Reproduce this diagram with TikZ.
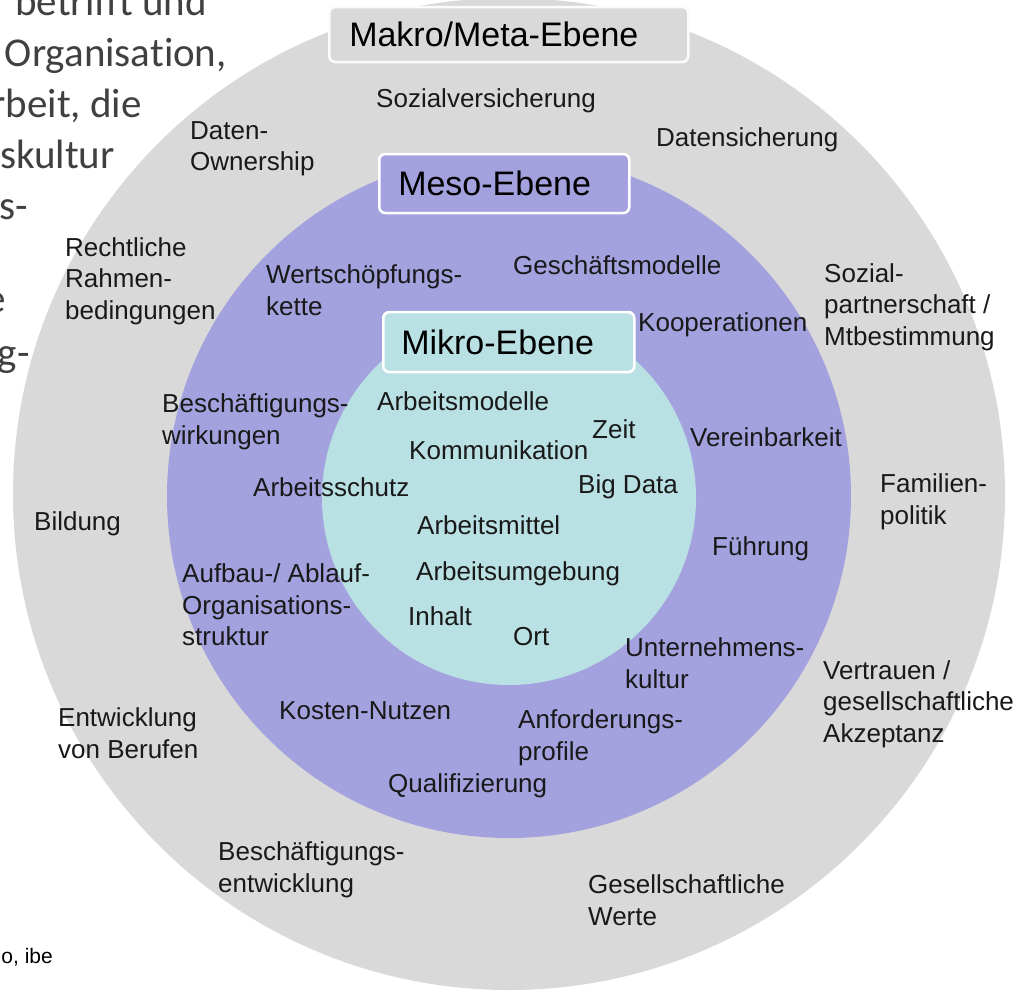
\documentclass[tikz,border=0pt]{standalone}
\usepackage{fontspec}
\setmainfont{Liberation Sans}
\newfontfamily\slidefont[Ligatures=NoCommon]{Carlito}
\usetikzlibrary{positioning}
\definecolor{makrograu}{HTML}{D9D9D9}
\definecolor{mesolila}{HTML}{A3A1DE}
\definecolor{mikrotuerkis}{HTML}{B9E0E3}
\definecolor{folientext}{HTML}{404040}
\tikzset{
	ebene/.style = {anchor=west, rounded corners=6pt, draw=white, line width=2.5pt,
		font=\fontsize{34}{40}\selectfont, align=left, inner ysep=0pt},% Kasten mit Ebenenname
	lbl/.style = {anchor=west, align=left, inner sep=0pt, text=black!90,
		font=\fontsize{26}{31.5}\selectfont},% Begriff im Ring
	folie/.style = {anchor=base east, inner sep=0pt, text=folientext,
		font=\slidefont\fontsize{41}{50}\selectfont}% Folientext links
}

\begin{document}
\begin{tikzpicture}[x=1pt,y=-1pt]
	\useasboundingbox (0,0) rectangle (1017,991);
	\clip (0,0) rectangle (1017,991);
	% Folientext, links abgeschnitten
	\node[folie] (f1) at (207,15) {betrifft und};
	\node[folie] (f2) at (227,66) {Organisation,};
	\node[folie] (f3) at (142,117) {rbeit, die};
	\node[folie] (f4) at (115,168) {skultur};
	\node[folie] (f5) at (28,219) {s-};
	\node[folie] (f6) at (6,312) {e};
	\node[folie] (f7) at (30,366) {g-};
	\node[anchor=base east, inner sep=0pt, font=\fontsize{21}{24}\selectfont] (quelle) at (53,963) {o, ibe};
	% drei Ringe
	\fill[makrograu] (509,494) circle (496pt);
	\fill[mesolila] (509,496) circle (342pt);
	\fill[mikrotuerkis] (509,498) circle (187pt);
	% Ebenen
	\node[ebene, fill=makrograu, draw=white!90!makrograu, minimum width=359pt, minimum height=55pt,
		inner xsep=20pt, text width=319pt] (makro) at (328,34.5) {Makro/Meta-Ebene};
	\node[ebene, fill=mesolila, minimum width=250pt, minimum height=59pt,
		inner xsep=19pt, text width=212pt] (meso) at (378,183.5) {Meso-Ebene};
	\node[ebene, fill=mikrotuerkis, minimum width=251pt, minimum height=60pt,
		inner xsep=18pt, text width=215pt] (mikro) at (382,342) {Mikro-Ebene};
	% Makro
	\node[lbl] (sozvers) at (376,101) {Sozialversicherung};
	\node[lbl] (datown) at (190,149) {Daten-\\Ownership};
	\node[lbl] (datsich) at (656,140) {Datensicherung};
	\node[lbl] (recht) at (65,281) {Rechtliche\\Rahmen-\\bedingungen};
	\node[lbl] (sozpart) at (824,307) {Sozial-\\partnerschaft /\\Mtbestimmung};
	\node[lbl] (familie) at (880,502) {Familien-\\politik};
	\node[lbl] (bildung) at (34,524) {Bildung};
	\node[lbl] (vertrauen) at (823,704) {Vertrauen /\\gesellschaftliche\\Akzeptanz};
	\node[lbl] (entw) at (58,733) {Entwicklung\\von Berufen};
	\node[lbl] (beschentw) at (218,870) {Beschäftigungs-\\entwicklung};
	\node[lbl] (gesell) at (588,900) {Gesellschaftliche\\Werte};
	% Meso
	\node[lbl] (wert) at (266,290) {Wertschöpfungs-\\kette};
	\node[lbl] (geschmod) at (513,265) {Geschäftsmodelle};
	\node[lbl] (koop) at (638,325) {Kooperationen};
	\node[lbl] (beschwirk) at (162,422) {Beschäftigungs-\\wirkungen};
	\node[lbl] (verein) at (690,437) {Vereinbarkeit};
	\node[lbl] (fuehrung) at (712,549) {Führung};
	\node[lbl] (aufbau) at (182,605) {Aufbau-/ Ablauf-\\Organisations-\\struktur};
	\node[lbl] (ukultur) at (625,663) {Unternehmens-\\kultur};
	\node[lbl] (kosten) at (279,711) {Kosten-Nutzen};
	\node[lbl] (anford) at (518,738) {Anforderungs-\\profile};
	\node[lbl] (quali) at (388,786) {Qualifizierung};
	% Mikro
	\node[lbl] (arbmod) at (377,401) {Arbeitsmodelle};
	\node[lbl] (zeit) at (592,429) {Zeit};
	\node[lbl] (komm) at (409,450) {Kommunikation};
	\node[lbl] (arbschutz) at (253,487) {Arbeitsschutz};
	\node[lbl] (bigdata) at (578,487) {Big Data};
	\node[lbl] (arbmittel) at (417,525) {Arbeitsmittel};
	\node[lbl] (arbumg) at (416,574) {Arbeitsumgebung};
	\node[lbl] (inhalt) at (408,616) {Inhalt};
	\node[lbl] (ort) at (513,637) {Ort};
\end{tikzpicture}
\end{document}
